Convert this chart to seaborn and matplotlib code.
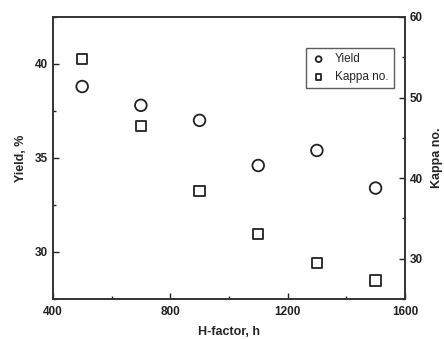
import matplotlib
matplotlib.use("Agg")
import matplotlib.pyplot as plt
from matplotlib.ticker import MultipleLocator
import seaborn as sns
import pandas as pd

h_factor = [500, 700, 900, 1100, 1300, 1500]
yield_pct = [38.8, 37.8, 37.0, 34.6, 35.4, 33.4]
kappa_no = [54.8, 46.5, 38.4, 33.1, 29.5, 27.3]

sns.set_theme(style="white")
plt.rcParams['font.family'] = ['Liberation Sans', 'DejaVu Sans']
plt.rcParams['font.weight'] = 'bold'

data = pd.DataFrame({"h": h_factor, "yield": yield_pct, "kappa": kappa_no})

fig, ax = plt.subplots(figsize=(4.44, 3.39), dpi=100)
fig.subplots_adjust(left=0.119, right=0.912, top=0.95, bottom=0.118)
ax2 = ax.twinx()

sns.scatterplot(data=data, x="h", y="yield", ax=ax, marker="o", s=70,
                facecolor="none", edgecolor="#222222", linewidth=1.3, label="Yield", legend=False)
sns.scatterplot(data=data, x="h", y="kappa", ax=ax2, marker="s", s=55,
                facecolor="none", edgecolor="#222222", linewidth=1.3, label="Kappa no.", legend=False)

ax.set_xlim(400, 1600)
ax.set_ylim(27.5, 42.5)
ax2.set_ylim(25, 60)

ax.xaxis.set_major_locator(MultipleLocator(400))
ax.xaxis.set_minor_locator(MultipleLocator(200))
ax.yaxis.set_major_locator(MultipleLocator(5))
ax.yaxis.set_minor_locator(MultipleLocator(2.5))
ax2.yaxis.set_major_locator(MultipleLocator(10))
ax2.yaxis.set_minor_locator(MultipleLocator(5))

for a in (ax, ax2):
    a.tick_params(which="both", direction="in", colors="#222222", labelsize=8.5)
    a.tick_params(which="major", length=4, width=1)
    a.tick_params(which="minor", length=2.5, width=1)
    for sp in a.spines.values():
        sp.set_color("#333333")
        sp.set_linewidth(1.2)
ax.tick_params(axis="x", which="both", bottom=True, top=False, pad=5)
ax.tick_params(axis="y", which="both", left=True, right=False)
ax2.tick_params(axis="y", which="both", right=True, left=False)

ax.set_xlabel("H-factor, h", fontsize=9, fontweight="bold", labelpad=6)
ax.set_ylabel("Yield, %", fontsize=9, fontweight="bold", labelpad=6)
ax2.set_ylabel("Kappa no.", fontsize=9, fontweight="bold", labelpad=6)

h1, l1 = ax.get_legend_handles_labels()
h2, l2 = ax2.get_legend_handles_labels()
leg = ax2.legend(h1 + h2, l1 + l2, loc="upper right", bbox_to_anchor=(0.986, 0.911),
                 fontsize=8.5, frameon=True, fancybox=False, edgecolor="#333333",
                 markerscale=0.5, handletextpad=0.8, borderpad=0.45, labelspacing=0.5,
                 handlelength=1.2)
leg.get_frame().set_linewidth(1.0)
for t in leg.get_texts():
    t.set_fontweight("normal")

fig.savefig("out.png", dpi=100)
